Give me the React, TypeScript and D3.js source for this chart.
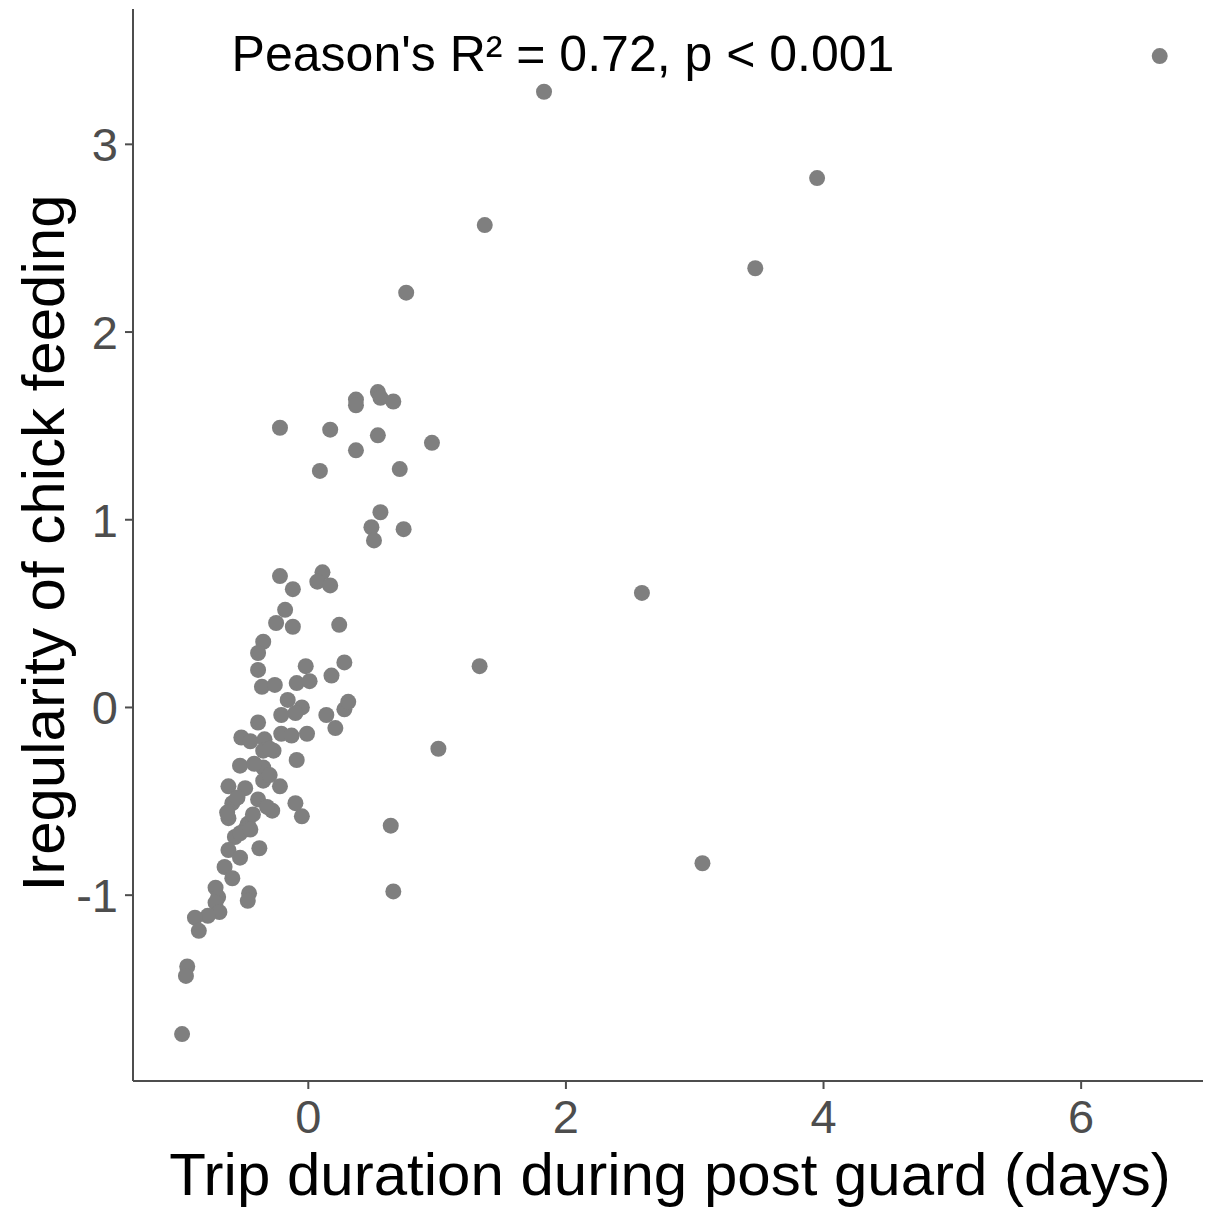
import React from "react";
import * as d3 from "d3";

const tripDuration: number[] = [
  6.61, 1.83, 3.95, 1.37, 3.47, 0.76, 2.59, 1.33, 1.01, 3.06, 0.64, 0.66, -0.98, -0.94, -0.95,
  -0.22, 0.17, 0.37, 0.37, 0.54, 0.56, 0.66, 0.54, 0.37, 0.96, 0.09, 0.71, 0.56, 0.49, 0.51, 0.74,
  -0.22, -0.12, 0.11, 0.07, 0.17, -0.18, -0.25, -0.12, 0.24, -0.35, -0.39, -0.39, -0.02, 0.28, 0.18,
  -0.36, -0.26, -0.09, 0.01,
  -0.16, -0.05, -0.21, -0.10, 0.14, 0.28, 0.31, 0.21, -0.39, -0.52, -0.34, -0.21, -0.13, -0.01,
  -0.35, -0.27, -0.53, -0.09, -0.35, -0.35, -0.62, -0.49, -0.22, -0.10, -0.05, -0.59, -0.39, -0.62,
  -0.47, -0.28, -0.57, -0.49, -0.38, -0.62, -0.53, -0.65, -0.59, -0.72, -0.70, -0.46, -0.47,
  -0.72, -0.69, -0.78, -0.88, -0.85, -0.30, -0.43, -0.32, -0.63, -0.53,
  -0.45, -0.42, -0.30, -0.55, -0.45,
];

const feedingIrregularity: number[] = [
  3.47, 3.28, 2.82, 2.57, 2.34, 2.21, 0.61, 0.22, -0.22, -0.83, -0.63, -0.98, -1.74, -1.38, -1.43,
  1.49, 1.48, 1.64, 1.61, 1.68, 1.65, 1.63, 1.45, 1.37, 1.41, 1.26, 1.27, 1.04, 0.96, 0.89, 0.95,
  0.70, 0.63, 0.72, 0.67, 0.65, 0.52, 0.45, 0.43, 0.44, 0.35, 0.29, 0.20, 0.22, 0.24, 0.17,
  0.11, 0.12, 0.13, 0.14,
  0.04, 0.00, -0.04, -0.03, -0.04, -0.01, 0.03, -0.11, -0.08, -0.16, -0.17, -0.14, -0.15, -0.14,
  -0.23, -0.23, -0.31, -0.28, -0.32, -0.39, -0.42, -0.43, -0.42, -0.51, -0.58, -0.51, -0.49, -0.59,
  -0.62, -0.55, -0.69, -0.65, -0.75, -0.76, -0.80, -0.85, -0.91, -0.96, -1.01, -0.99, -1.03,
  -1.04, -1.09, -1.11, -1.12, -1.19, -0.22, -0.57, -0.53, -0.56, -0.67,
  -0.18, -0.30, -0.36, -0.48, -0.65,
];

const xTicks: number[] = [0, 2, 4, 6];
const yTicks: number[] = [-1, 0, 1, 2, 3];
const xTitle = "Trip duration during post guard (days)";
const yTitle = "Iregularity of chick feeding";
const annotation = "Peason's R\u00B2 = 0.72, p < 0.001";

export default function App() {
  const W = 1205;
  const H = 1211;
  const left = 133, right = 1203, top = 9, bottom = 1081;
  const x = d3.scaleLinear().domain([-1.361, 6.946]).range([left, right]);
  const y = d3.scaleLinear().domain([-1.99, 3.721]).range([bottom, top]);
  const font = "Arial, 'Liberation Sans', sans-serif";
  const axisColor = "#4d4d4d";

  return (
    <div style={{ position: "absolute", left: 0, top: 0 }}>
      <svg width={W} height={H} style={{ display: "block", background: "#fff" }}>
        {tripDuration.map((v, i) => (
          <circle key={i} cx={x(v)} cy={y(feedingIrregularity[i])} r={8} fill="#7f7f7f" />
        ))}
        <line x1={left} x2={left} y1={top} y2={bottom} stroke={axisColor} strokeWidth={2} />
        <line x1={left} x2={right} y1={bottom} y2={bottom} stroke={axisColor} strokeWidth={2} />
        {yTicks.map((t) => (
          <g key={"y" + t}>
            <line x1={left - 8} x2={left} y1={y(t)} y2={y(t)} stroke={axisColor} strokeWidth={2} />
            <text x={left - 15} y={y(t)} dy="0.36em" textAnchor="end" fontSize={47}
              fill="#4d4d4d" fontFamily={font}>{t}</text>
          </g>
        ))}
        {xTicks.map((t) => (
          <g key={"x" + t}>
            <line x1={x(t)} x2={x(t)} y1={bottom} y2={bottom + 8} stroke={axisColor} strokeWidth={2} />
            <text x={x(t)} y={1133} textAnchor="middle" fontSize={47}
              fill="#4d4d4d" fontFamily={font}>{t}</text>
          </g>
        ))}
        <text x={670} y={1195} textAnchor="middle" fontSize={60}
          fill="#000" fontFamily={font}>{xTitle}</text>
        <text transform={`translate(64, 543) rotate(-90)`} textAnchor="middle"
          fontSize={60} fill="#000" fontFamily={font}>{yTitle}</text>
        <text x={563} y={71} textAnchor="middle" fontSize={50} fill="#000" fontFamily={font}>
          {annotation}
        </text>
      </svg>
    </div>
  );
}
